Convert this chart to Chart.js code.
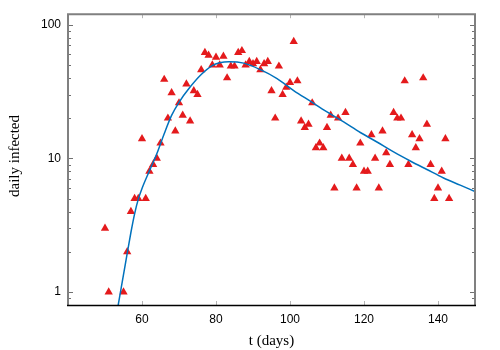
<!DOCTYPE html>
<html>
<head>
<meta charset="utf-8">
<script src="https://cdn.jsdelivr.net/npm/chart.js@4/dist/chart.umd.min.js"></script>
<style>
html,body{margin:0;padding:0;background:#fff;}
#wrap{width:500px;height:350px;}
</style>
</head>
<body>
<div id="wrap"><canvas id="c" width="500" height="350"></canvas></div>
<script>
// observed data
const days = [50,51,55,56,57,58,59,60,61,62,63,64,65,66,67,68,69,70,71,72,73,74,75,76,77,78,79,80,81,82,83,84,85,86,87,88,89,90,91,92,93,94,95,96,97,98,99,100,101,102,103,104,105,106,107,108,109,110,111,112,113,114,115,116,117,118,119,120,121,122,123,124,125,126,127,128,129,130,131,132,133,134,135,136,137,138,139,140,141,142,143];
const infected = [3,1,1,2,4,5,5,14,5,8,9,10,13,39,20,31,16,26,21,36,19,32,30,46,62,59,50,57,50,58,40,49,49,62,64,50,53,51,53,46,51,53,32,20,49,30,34,37,75,38,19,17,18,26,12,13,12,17,21,6,20,10,22,10,9,6,13,8,8,15,10,6,16,11,9,22,20,20,38,9,15,12,14,40,18,9,5,6,8,14,5];
// fitted curve
const fitDays = [53.5,55,56,57,58,59,60,62,64,66,68,70,73,76,79,81,83.5,87.5,92,96.5,101,105.5,110,114.5,119,123.5,128,132.5,137,141.5,146,150];
const fitValues = [0.78,1.35,1.95,2.79,3.85,4.96,5.96,8.07,10.84,15.31,20.99,26.3,34.2,42.46,49.55,52.0,52.97,51.64,46.13,39.54,32.21,26.79,22.28,18.75,15.63,13.27,11.19,9.57,8.26,7.14,6.31,5.65];
// axes
const xTickValues = [60,80,100,120,140];
const yTickValues = [1,10,100];
const yMinorTicks = [0.9,2,3,4,5,6,7,8,9,20,30,40,50,60,70,80,90];
const xTitle = 't (days)';
const yTitle = 'daily infected';

function seg(ctx, x1, y1, x2, y2) {
  ctx.beginPath(); ctx.moveTo(x1, y1); ctx.lineTo(x2, y2); ctx.stroke();
}

const framePlugin = {
  id: 'frame',
  afterDraw(chart) {
    const ctx = chart.ctx;
    const {left, right, top, bottom} = chart.chartArea;
    const xs = chart.scales.x, ys = chart.scales.y;
    ctx.save();
    ctx.lineWidth = 1;
    // x ticks (inward, top and bottom)
    ctx.strokeStyle = '#b4b4b4';
    xTickValues.forEach(v => {
      const px = Math.round(xs.getPixelForValue(v)) + 0.5;
      seg(ctx, px, bottom, px, bottom - 4);
      seg(ctx, px, top, px, top + 4);
    });
    // y ticks
    ctx.strokeStyle = '#707070';
    yTickValues.forEach(v => {
      const py = Math.round(ys.getPixelForValue(v)) + 0.5;
      seg(ctx, left, py, left + 5, py);
      seg(ctx, right, py, right - 5, py);
    });
    yMinorTicks.forEach(v => {
      const py = Math.round(ys.getPixelForValue(v)) + 0.5;
      seg(ctx, left, py, left + 3, py);
      seg(ctx, right, py, right - 3, py);
    });
    // border
    ctx.strokeStyle = '#808080';
    ctx.lineWidth = 2;
    ctx.beginPath();
    ctx.moveTo(left, bottom);
    ctx.lineTo(left, top);
    ctx.lineTo(right, top);
    ctx.lineTo(right, bottom);
    ctx.stroke();
    ctx.strokeStyle = '#000';
    ctx.lineWidth = 1.3;
    seg(ctx, left - 1, bottom + 0.5, right + 1, bottom + 0.5);
    // titles
    ctx.fillStyle = '#000';
    ctx.font = '15px "Liberation Serif"';
    ctx.textAlign = 'center';
    ctx.textBaseline = 'middle';
    ctx.fillText(xTitle, (left + right) / 2, 341);
    ctx.translate(15, 156);
    ctx.rotate(-Math.PI / 2);
    ctx.fillText(yTitle, 0, 0);
    ctx.restore();
  }
};

const tickFont = {family: '"Liberation Sans"', size: 12};

new Chart(document.getElementById('c'), {
  data: {
    datasets: [
      {
        type: 'line',
        data: fitDays.map((d, i) => ({x: d, y: fitValues[i]})),
        borderColor: '#0072bd',
        borderWidth: 1.5,
        pointRadius: 0,
        fill: false,
        cubicInterpolationMode: 'monotone',
        clip: 0
      },
      {
        type: 'scatter',
        data: days.map((d, i) => ({x: d, y: infected[i]})),
        pointStyle: 'triangle',
        pointRadius: 4.8,
        backgroundColor: '#e41a1c',
        borderColor: '#e41a1c',
        borderWidth: 0
      }
    ]
  },
  options: {
    responsive: false,
    animation: false,
    devicePixelRatio: 1,
    layout: {padding: {top: 14, right: 25, left: 0, bottom: 0}},
    plugins: {legend: {display: false}, tooltip: {enabled: false}},
    scales: {
      x: {
        type: 'linear',
        position: 'bottom',
        min: 40, max: 150,
        grid: {display: false, drawTicks: false},
        border: {display: false},
        ticks: {font: tickFont, color: '#000', padding: 7, maxRotation: 0, autoSkip: false},
        afterBuildTicks: s => { s.ticks = xTickValues.map(v => ({value: v})); },
        afterFit: s => { s.height = 45; }
      },
      y: {
        type: 'logarithmic',
        position: 'left',
        min: 0.8, max: 120,
        grid: {display: false, drawTicks: false},
        border: {display: false},
        ticks: {font: tickFont, color: '#000', padding: 7, autoSkip: false, callback: v => String(v)},
        afterBuildTicks: s => { s.ticks = yTickValues.map(v => ({value: v, major: true})); },
        afterFit: s => { s.width = 68; }
      }
    }
  },
  plugins: [framePlugin]
});
</script>
</body>
</html>
